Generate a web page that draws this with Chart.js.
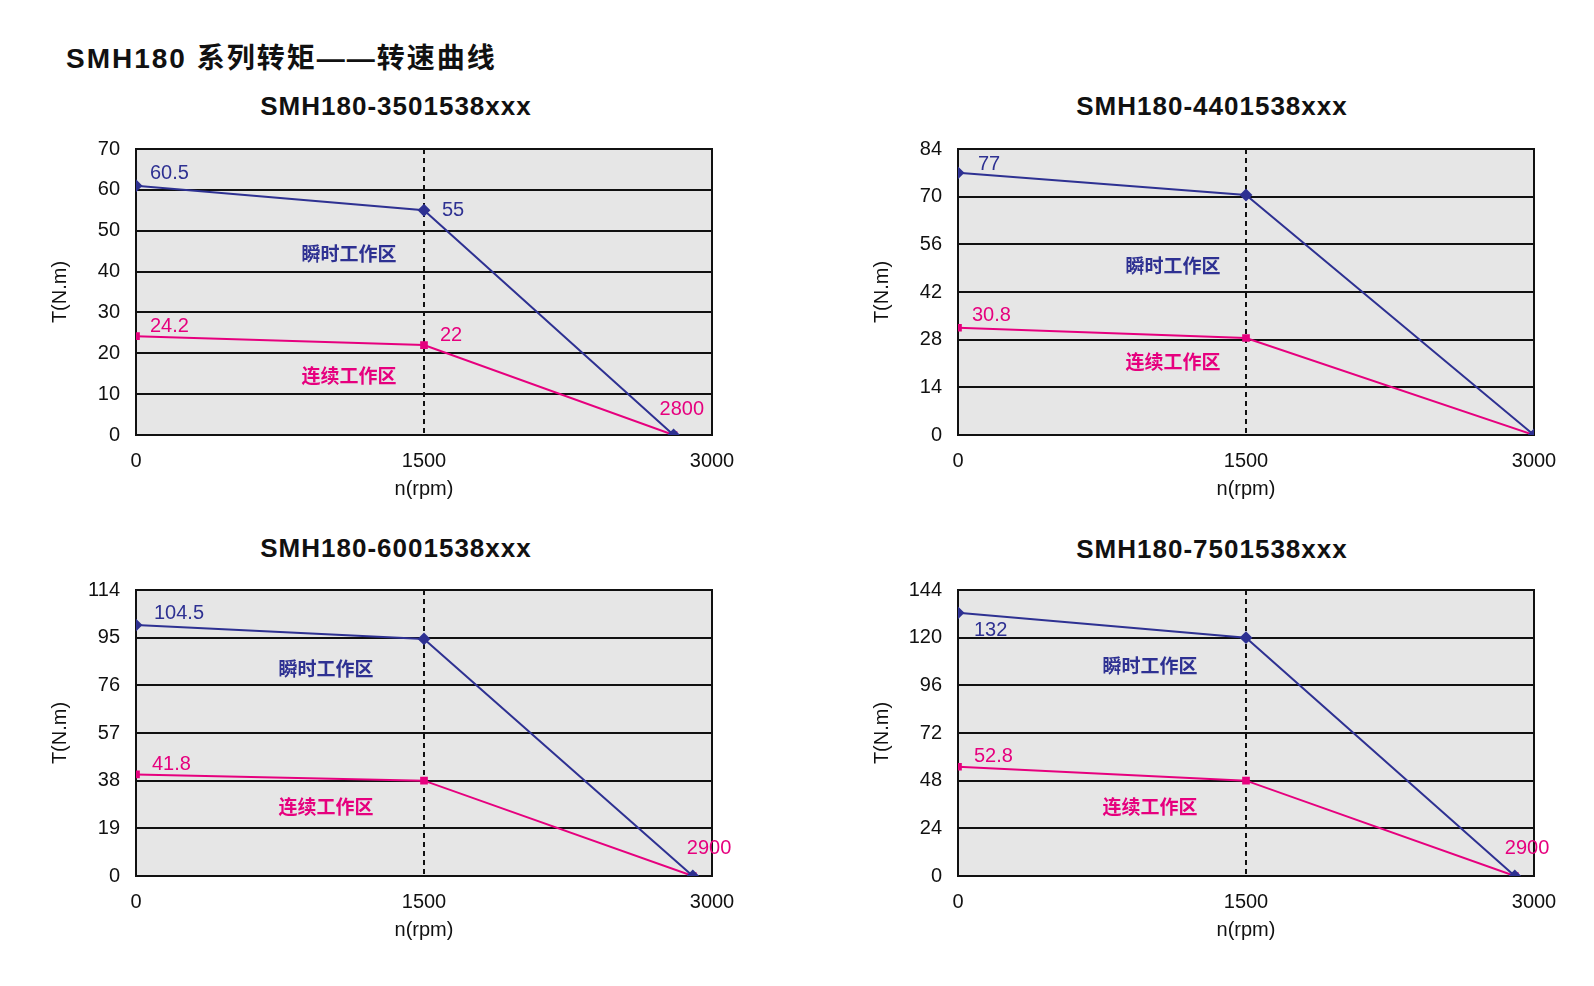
<!DOCTYPE html>
<html><head><meta charset="utf-8">
<script src="https://cdn.jsdelivr.net/npm/chart.js@4.4.0/dist/chart.umd.min.js"></script>
<style>
body{margin:0;background:#fff;width:1594px;height:986px;position:relative;overflow:hidden;font-family:"Liberation Sans","Noto Sans CJK SC",sans-serif}
.t{position:absolute;font-weight:bold;color:#111;white-space:nowrap}
.s{width:400px;text-align:center;font-size:26px;letter-spacing:1px}
canvas{position:absolute}
</style></head><body>
<div class="t" style="left:66px;top:36px;font-size:28px;letter-spacing:2px">SMH180 系列转矩——转速曲线</div>
<div class="t s" style="left:196px;top:91px">SMH180-3501538xxx</div>
<div class="t s" style="left:1012px;top:91px">SMH180-4401538xxx</div>
<div class="t s" style="left:196px;top:533px">SMH180-6001538xxx</div>
<div class="t s" style="left:1012px;top:534px">SMH180-7501538xxx</div>
<canvas id="c0"></canvas><canvas id="c1"></canvas><canvas id="c2"></canvas><canvas id="c3"></canvas>
<script>
const speeds1=[0,1500,2800], speeds2=[0,1500,3000], speeds3=[0,1500,2900], speeds4=[0,1500,2900];
const peak1=[61,55,0], cont1=[24.2,22,0];
const peak2=[77,70.5,0], cont2=[31.5,28.5,0];
const peak3=[100,94.5,0], cont3=[40.5,38,0];
const peak4=[132.5,120,0], cont4=[55,48,0];
const peakLbl1=["60.5","55",""], contLbl1=["24.2","22","2800"];
const peakLbl2=["77","",""], contLbl2=["30.8","",""];
const peakLbl3=["104.5","",""], contLbl3=["41.8","","2900"];
const peakLbl4=["132","",""], contLbl4=["52.8","","2900"];
const yTicks1=[0,10,20,30,40,50,60,70], yTicks2=[0,14,28,42,56,70,84], yTicks3=[0,19,38,57,76,95,114], yTicks4=[0,24,48,72,96,120,144];
const xTicks=[0,1500,3000];
const zonePeak="瞬时工作区", zoneCont="连续工作区";
const BLUE="#2e3192", PINK="#e6007e";
const cfgs=[
 {id:"c0",left:40,top:121,sx:speeds1,p:peak1,c:cont1,pl:peakLbl1,cl:contLbl1,yt:yTicks1,zp:[1110,44.3],zc:[1110,14.6],off:{p:[[14,-12],[18,0]],c:[[14,-10],[16,-10],[-14,-26]]}},
 {id:"c1",left:862,top:121,sx:speeds2,p:peak2,c:cont2,pl:peakLbl2,cl:contLbl2,yt:yTicks2,zp:[1120,49.8],zc:[1120,21.4],off:{p:[[20,-8]],c:[[14,-12]]}},
 {id:"c2",left:40,top:562,sx:speeds3,p:peak3,c:cont3,pl:peakLbl3,cl:contLbl3,yt:yTicks3,zp:[990,82.7],zc:[990,27.6],off:{p:[[18,-12]],c:[[16,-10],[0,0],[-6,-28]]}},
 {id:"c3",left:862,top:562,sx:speeds4,p:peak4,c:cont4,pl:peakLbl4,cl:contLbl4,yt:yTicks4,zp:[1000,105.8],zc:[1000,34.8],off:{p:[[16,18]],c:[[16,-10],[0,0],[-10,-28]]}}
];
const overlay={id:"ov",beforeDatasetsDraw(ch){
  const {ctx,chartArea:a,scales:{x,y}}=ch;
  ctx.save();ctx.strokeStyle="#111";ctx.lineWidth=2;ctx.strokeRect(a.left,a.top,a.right-a.left,a.bottom-a.top);
  ctx.setLineDash([5,4]);
  const xx=x.getPixelForValue(1500);ctx.beginPath();ctx.moveTo(xx,a.top);ctx.lineTo(xx,a.bottom);ctx.stroke();ctx.restore();
 },afterDatasetsDraw(ch){
  const {ctx,scales:{x,y}}=ch;const o=ch.options.plugins.ov;
  ctx.save();ctx.font='bold 19px "Noto Sans CJK SC"';ctx.textAlign="center";ctx.textBaseline="middle";
  ctx.fillStyle=BLUE;ctx.fillText(zonePeak,x.getPixelForValue(o.zp[0]),y.getPixelForValue(o.zp[1]));
  ctx.fillStyle=PINK;ctx.fillText(zoneCont,x.getPixelForValue(o.zc[0]),y.getPixelForValue(o.zc[1]));
  ctx.font='20px "Liberation Sans"';ctx.textAlign="left";
  const draw=(vals,lbls,offs,col)=>{ctx.fillStyle=col;vals.forEach((v,i)=>{if(!lbls[i])return;const d=offs[i]||[14,-12];
    ctx.fillText(lbls[i],x.getPixelForValue(o.sx[i])+d[0],y.getPixelForValue(v)+d[1]);});};
  draw(o.p,o.pl,o.off.p,BLUE);draw(o.c,o.cl,o.off.c,PINK);
  ctx.restore();
 }};
const bg={id:"bg",beforeDraw(ch){const {ctx,chartArea:a}=ch;ctx.save();ctx.fillStyle="#e6e6e6";ctx.fillRect(a.left,a.top,a.right-a.left,a.bottom-a.top);ctx.restore();}};
cfgs.forEach(c=>{
 const el=document.getElementById(c.id);el.style.left=c.left+"px";el.style.top=c.top+"px";
 el.style.width="720px";el.style.height="380px";
 new Chart(el,{type:"line",data:{datasets:[
  {data:c.sx.map((s,i)=>({x:s,y:c.p[i]})),borderColor:BLUE,backgroundColor:BLUE,borderWidth:2,pointStyle:"rectRot",pointRadius:5},
  {data:c.sx.map((s,i)=>({x:s,y:c.c[i]})),borderColor:PINK,backgroundColor:PINK,borderWidth:2,pointStyle:"rect",pointRadius:4}]},
 options:{responsive:false,animation:false,
  layout:{padding:{top:0,right:48,left:0,bottom:0}},
  plugins:{legend:{display:false},tooltip:{enabled:false},ov:c},
  scales:{
   x:{type:"linear",min:0,max:3000,afterBuildTicks:s=>{s.ticks=xTicks.map(v=>({value:v}))},
     grid:{display:false},border:{color:"#111",width:2},
     ticks:{color:"#111",font:{size:20,family:"Liberation Sans"},maxRotation:0,padding:6,callback:v=>String(v)},
     title:{display:true,text:"n(rpm)",color:"#111",font:{size:20,family:"Liberation Sans"},padding:0},
     afterFit:s=>{s.height=66}},
   y:{min:0,max:c.yt[c.yt.length-1],afterBuildTicks:s=>{s.ticks=c.yt.map(v=>({value:v}))},
     grid:{color:"#111",lineWidth:2,drawTicks:false},border:{color:"#111",width:2},
     ticks:{color:"#111",font:{size:20,family:"Liberation Sans"},padding:16,callback:v=>String(v)},
     title:{display:true,text:"T(N.m)",color:"#111",font:{size:20,family:"Liberation Sans"},padding:8},
     afterFit:s=>{s.width=96}}
  }},plugins:[bg,overlay]});
});
</script></body></html>
